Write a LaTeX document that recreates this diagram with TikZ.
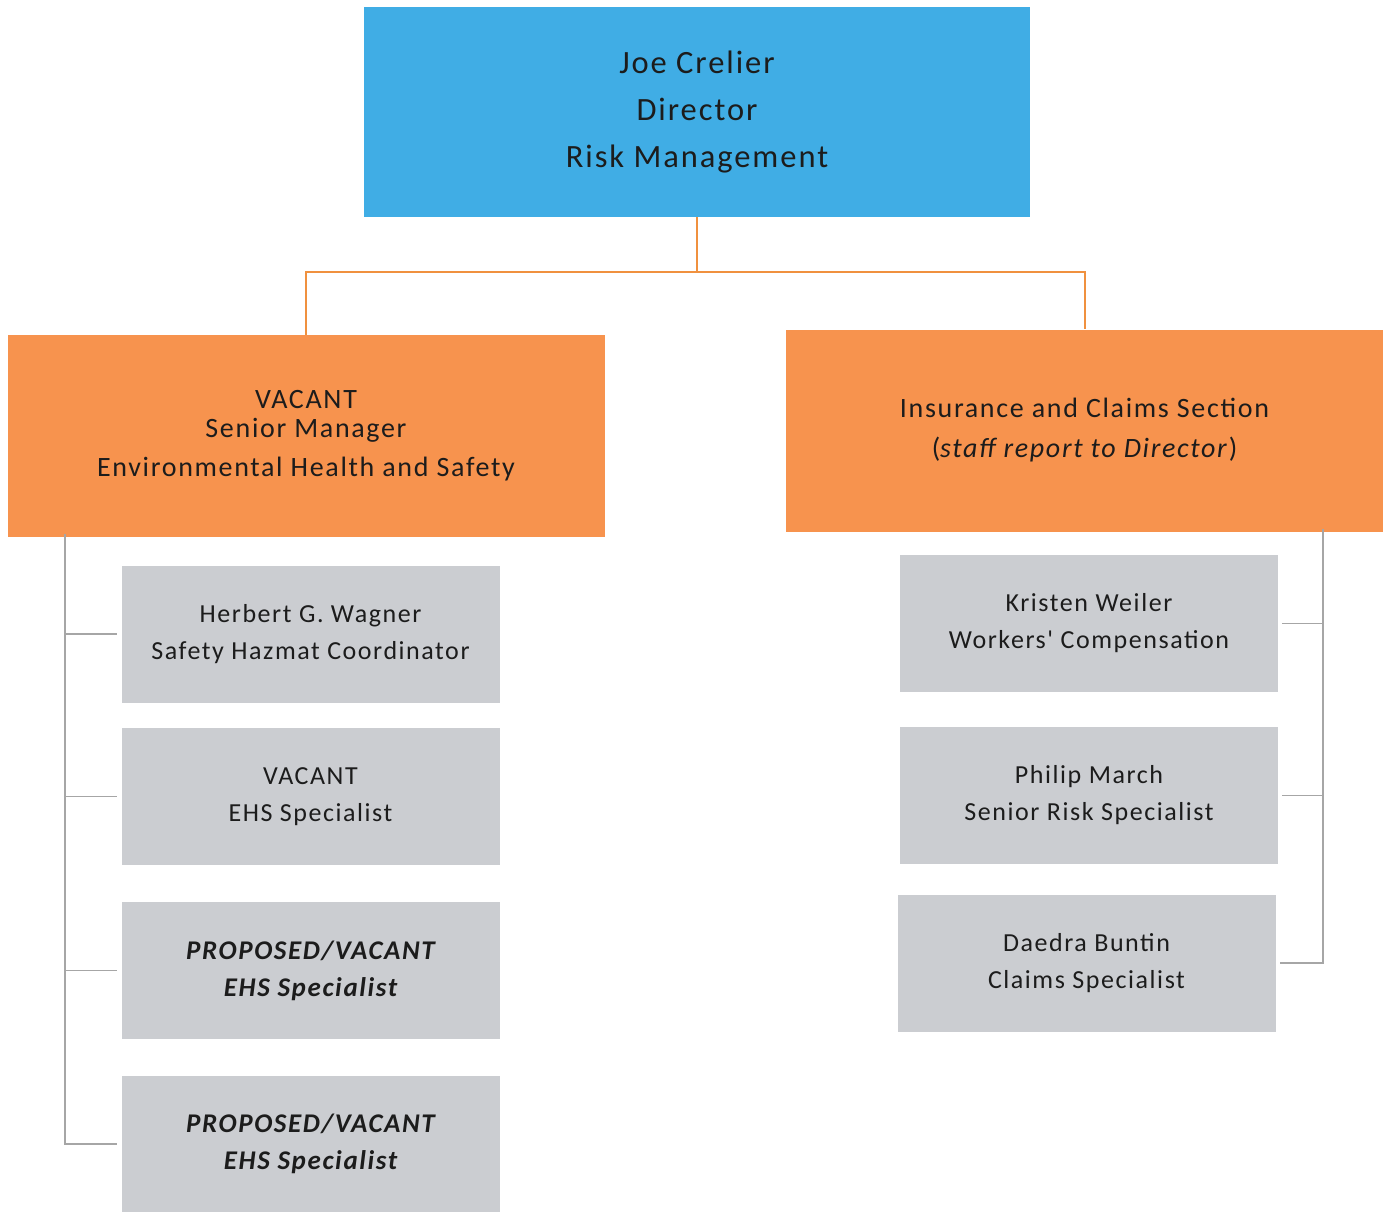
\documentclass[tikz,border=0pt]{standalone}
\usepackage{fontspec}
\setmainfont{Carlito}
\newfontfamily\wfont[LetterSpace=6]{Carlito}
\definecolor{boxblue}{HTML}{40ADE5}
\definecolor{boxorange}{HTML}{F7934E}
\definecolor{boxgray}{HTML}{CBCDD1}
\definecolor{txt}{HTML}{1C1C1C}
\definecolor{lnorange}{HTML}{F0913F}
\definecolor{lngray}{HTML}{A6A6A6}
\begin{document}
\begin{tikzpicture}[x=1pt,y=-1pt,
  every node/.style={inner sep=0pt,text=txt,align=center},
  topbox/.style={fill=boxblue,minimum width=666pt,minimum height=210pt,font=\wfont\fontsize{32.5}{47}\selectfont},
  mgrbox/.style={fill=boxorange,minimum width=597pt,minimum height=202pt,font=\wfont\fontsize{28}{29}\selectfont},
  staffbox/.style={fill=boxgray,minimum width=378pt,minimum height=137pt,font=\wfont\fontsize{26}{37}\selectfont},
  orline/.style={draw=lnorange,line width=2pt},
  grline/.style={draw=lngray,line width=1.5pt}]
\useasboundingbox (0,0) rectangle (1389,1211);
% top
\node[topbox] (top) at (697,112) {Joe Crelier\\Director\\Risk Management};
% managers
\node[mgrbox] (lo) at (306,436) {VACANT\\Senior Manager\\[10pt]Environmental Health and Safety};
\node[mgrbox,font=\wfont\fontsize{28}{40}\selectfont] (ro) at (1084.5,430.5) {Insurance and Claims Section\\(\textit{staff report to Director})};
% left staff
\node[staffbox] (g1) at (310.5,634) {Herbert G. Wagner\\Safety Hazmat Coordinator};
\node[staffbox] (g2) at (310.5,796.5) {VACANT\\EHS Specialist};
\node[staffbox,font=\wfont\fontsize{27}{37}\selectfont] (g3) at (310.5,970.5) {\bfseries\itshape PROPOSED/VACANT\\\bfseries\itshape EHS Specialist};
\node[staffbox,font=\wfont\fontsize{27}{37}\selectfont] (g4) at (310.5,1144) {\bfseries\itshape PROPOSED/VACANT\\\bfseries\itshape EHS Specialist};
% right staff
\node[staffbox] (r1) at (1089,623.5) {Kristen Weiler\\Workers' Compensation};
\node[staffbox] (r2) at (1089,795.5) {Philip March\\Senior Risk Specialist};
\node[staffbox] (r3) at (1086.5,963) {Daedra Buntin\\Claims Specialist};
% orange connectors
\coordinate (bar) at (697,272);
\draw[orline] (top.south) -- (bar) -| (lo.north);
\draw[orline] (bar) -| (ro.north);
% left gray connectors
\coordinate (tl) at (65,0);
\draw[grline] ([yshift=3pt]tl |- lo.south) -- (tl |- g4.west) -- ([xshift=-4pt]g4.west);
\foreach \n in {g1,g2,g3} \draw[grline] (tl |- \n.west) -- ([xshift=-4pt]\n.west);
% right gray connectors
\coordinate (tr) at (1323,0);
\draw[grline] ([yshift=3pt]tr |- ro.south) -- (tr |- r3.east) -- ([xshift=4pt]r3.east);
\foreach \n in {r1,r2} \draw[grline] (tr |- \n.east) -- ([xshift=4pt]\n.east);
\end{tikzpicture}
\end{document}
